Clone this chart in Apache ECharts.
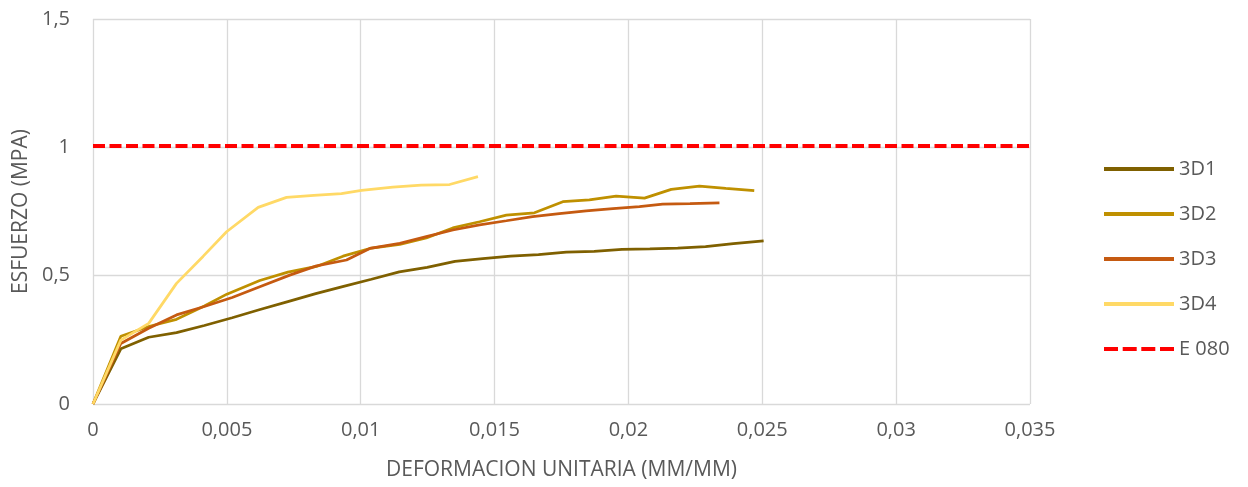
<!DOCTYPE html>
<html>
<head>
<meta charset="utf-8">
<script src="https://cdn.jsdelivr.net/npm/echarts@6/dist/echarts.min.js"></script>
<style>
  html, body { margin: 0; padding: 0; background: #fff; }
  #chart { width: 1248px; height: 487px; }
</style>
</head>
<body>
<div id="chart"></div>
<script>
// Strain (mm/mm) and stress (MPa) readings for each specimen
const strain3D1 = [0, 0.00104, 0.00208, 0.00312, 0.00416, 0.0052, 0.00624, 0.00728, 0.00832, 0.00936, 0.0104, 0.01144, 0.01248, 0.01352, 0.01456, 0.0156, 0.01664, 0.01768, 0.01872, 0.01976, 0.0208, 0.02184, 0.02288, 0.02392, 0.02505];
const stress3D1 = [0, 0.215, 0.26, 0.278, 0.306, 0.336, 0.368, 0.399, 0.43, 0.458, 0.486, 0.515, 0.532, 0.556, 0.566, 0.576, 0.582, 0.592, 0.595, 0.602, 0.604, 0.607, 0.613, 0.625, 0.636];

const strain3D2 = [0, 0.00104, 0.00208, 0.00312, 0.00416, 0.005, 0.00623, 0.00728, 0.00835, 0.00934, 0.01034, 0.01146, 0.01245, 0.01344, 0.01444, 0.01544, 0.01649, 0.01755, 0.01854, 0.01954, 0.0206, 0.0216, 0.02265, 0.02364, 0.0247];
const stress3D2 = [0, 0.264, 0.302, 0.33, 0.382, 0.428, 0.481, 0.514, 0.536, 0.576, 0.606, 0.622, 0.647, 0.686, 0.71, 0.736, 0.745, 0.788, 0.795, 0.81, 0.802, 0.836, 0.849, 0.84, 0.831];

const strain3D3 = [0, 0.00104, 0.00208, 0.00312, 0.00416, 0.0052, 0.00623, 0.00735, 0.00835, 0.00947, 0.01034, 0.01146, 0.01245, 0.01344, 0.01444, 0.01544, 0.01642, 0.01742, 0.01842, 0.01942, 0.02041, 0.02128, 0.0223, 0.0234];
const stress3D3 = [0, 0.236, 0.295, 0.347, 0.38, 0.415, 0.457, 0.502, 0.538, 0.561, 0.606, 0.626, 0.652, 0.678, 0.698, 0.714, 0.73, 0.742, 0.752, 0.761, 0.769, 0.779, 0.781, 0.784];

const strain3D4 = [0, 0.00104, 0.00208, 0.00312, 0.00411, 0.00499, 0.00617, 0.00723, 0.00825, 0.00928, 0.01003, 0.0112, 0.01226, 0.01332, 0.01438];
const stress3D4 = [0, 0.249, 0.314, 0.47, 0.575, 0.671, 0.766, 0.805, 0.813, 0.82, 0.832, 0.845, 0.853, 0.855, 0.886];

// Reference limit from norma E 080
const limitStrain = [0, 0.035];
const limitStress = [1.005, 1.005];

const seriesNames = ['3D1', '3D2', '3D3', '3D4', 'E 080'];
const seriesColors = ['#7F6000', '#BF9000', '#C55A11', '#FFD966', '#FF0000'];

const xTicks = { min: 0, max: 0.035, step: 0.005 };
const yTicks = { min: 0, max: 1.5, step: 0.5 };

const pairs = (xs, ys) => xs.map((x, i) => [x, ys[i]]);
const comma = v => String(+v.toFixed(4)).replace('.', ',');

const textColor = '#595959';
const fontFamily = '"Open Sans", "Noto Sans", sans-serif';

// Legend keys: a solid bar for the specimens, four dashes for the limit
const solidKey = 'path://M0,0H70V4H0Z';
const dashedKey = 'path://M0,0H14V4H0Z M18.7,0H32.7V4H18.7Z M37.3,0H51.3V4H37.3Z M56,0H70V4H56Z';

const seriesData = [
  pairs(strain3D1, stress3D1),
  pairs(strain3D2, stress3D2),
  pairs(strain3D3, stress3D3),
  pairs(strain3D4, stress3D4),
  pairs(limitStrain, limitStress)
];

const chart = echarts.init(document.getElementById('chart'), null, { renderer: 'canvas' });
chart.setOption({
  animation: false,
  backgroundColor: '#ffffff',
  grid: { left: 93, right: 218, top: 19, bottom: 83, containLabel: false },
  xAxis: {
    type: 'value',
    min: xTicks.min, max: xTicks.max, interval: xTicks.step,
    name: 'DEFORMACION UNITARIA (MM/MM)',
    nameLocation: 'middle',
    nameGap: 56,
    nameTextStyle: { color: textColor, fontSize: 21, fontFamily },
    axisLine: { show: false },
    axisTick: { show: false },
    axisLabel: { color: textColor, fontSize: 20, fontFamily, margin: 16, formatter: comma },
    splitLine: { show: true, lineStyle: { color: '#d9d9d9', width: 1.3 } }
  },
  yAxis: {
    type: 'value',
    min: yTicks.min, max: yTicks.max, interval: yTicks.step,
    name: 'ESFUERZO (MPA)',
    nameLocation: 'middle',
    nameGap: 58,
    nameTextStyle: { color: textColor, fontSize: 21, fontFamily },
    axisLine: { show: false },
    axisTick: { show: false },
    axisLabel: { color: textColor, fontSize: 20, fontFamily, margin: 23, formatter: comma },
    splitLine: { show: true, lineStyle: { color: '#d9d9d9', width: 1.3 } }
  },
  legend: {
    orient: 'vertical',
    left: 1099,
    top: 153,
    itemWidth: 70,
    itemHeight: 4,
    itemGap: 23,
    data: seriesNames.map((name, i) => ({ name, icon: i === 4 ? dashedKey : solidKey })),
    textStyle: { color: textColor, fontSize: 20, fontFamily, lineHeight: 22 }
  },
  series: seriesData.map((data, i) => ({
    name: seriesNames[i],
    type: 'line',
    data,
    symbol: 'none',
    z: i === 4 ? 1 : 2,
    lineStyle: i === 4
      ? { color: seriesColors[i], width: 4, type: [12, 4.5] }
      : { color: seriesColors[i], width: 2.75 },
    itemStyle: { color: seriesColors[i] }
  }))
});
</script>
</body>
</html>
